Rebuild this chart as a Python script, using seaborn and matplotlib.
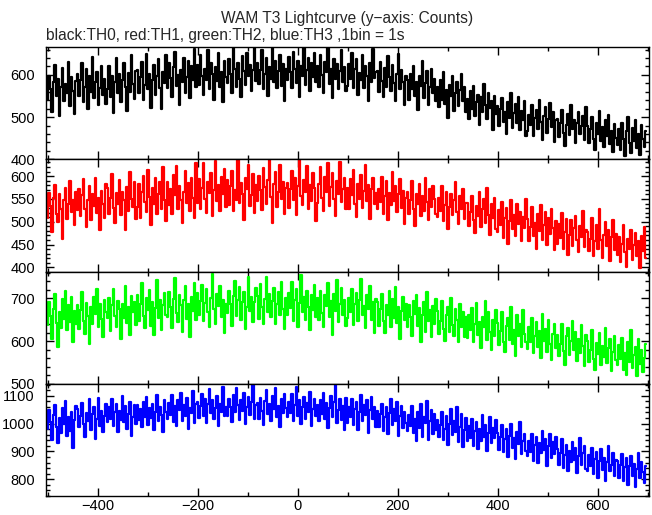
import numpy as np
import matplotlib
matplotlib.use("Agg")
import matplotlib.pyplot as plt
from matplotlib.ticker import MultipleLocator
import seaborn as sns

# ==============================
# DONNÉES (1 valeur toutes les 3 s)
# ==============================
time_s = np.arange(-500, 700, 3)

th0 = [541, 598, 566, 512, 583, 624, 549, 590, 503, 571, 617, 538, 579, 556, 631, 527, 594, 562, 508, 585,
       603, 551, 588, 629, 536, 572, 614, 519, 597, 560, 642, 545, 583, 607, 528, 569, 621, 553, 590, 532,
       566, 621, 548, 597, 509, 583, 640, 557, 601, 536, 588, 627, 571, 515, 604, 559, 648, 579, 542, 610,
       612, 557, 594, 631, 540, 577, 649, 566, 603, 521, 589, 624, 553, 598, 637, 569, 518, 606, 581, 646,
       569, 627, 592, 548, 618, 655, 574, 600, 529, 611, 583, 641, 557, 596, 633, 545, 620, 589, 662, 571,
       623, 575, 646, 597, 552, 614, 588, 660, 566, 629, 603, 541, 618, 585, 652, 571, 607, 536, 634, 594,
       581, 638, 602, 557, 664, 614, 572, 629, 590, 548, 645, 608, 576, 653, 597, 623, 561, 612, 671, 585,
       627, 579, 612, 658, 566, 603, 641, 551, 619, 590, 672, 584, 633, 568, 609, 646, 574, 625, 538, 614,
       588, 642, 607, 569, 655, 615, 581, 633, 548, 622, 598, 668, 576, 612, 639, 561, 627, 594, 651, 583,
       621, 572, 648, 599, 557, 630, 606, 668, 578, 614, 545, 637, 591, 625, 566, 609, 659, 582, 618, 561,
       573, 626, 591, 652, 568, 613, 637, 552, 604, 587, 646, 570, 621, 597, 538, 629, 584, 661, 592, 607,
       608, 559, 631, 586, 548, 617, 572, 645, 595, 561, 624, 580, 538, 603, 649, 567, 612, 584, 529, 598,
       589, 541, 603, 566, 622, 550, 584, 517, 597, 573, 632, 545, 581, 609, 528, 571, 614, 556, 590, 537,
       571, 524, 589, 541, 607, 532, 563, 498, 576, 549, 598, 515, 558, 582, 526, 565, 603, 539, 572, 511,
       543, 496, 561, 518, 574, 502, 536, 553, 481, 547, 512, 579, 528, 495, 556, 521, 538, 470, 549, 507,
       527, 479, 518, 546, 488, 512, 461, 535, 497, 556, 474, 509, 531, 486, 548, 469, 514, 493, 539, 455,
       468, 506, 481, 528, 455, 497, 517, 472, 540, 489, 446, 503, 523, 462, 495, 534, 476, 511, 441, 492,
       496, 453, 487, 516, 462, 431, 482, 508, 457, 529, 471, 494, 438, 486, 513, 460, 478, 502, 445, 523,
       479, 438, 471, 499, 449, 423, 487, 461, 514, 443, 476, 428, 492, 455, 506, 437, 468, 418, 484, 451,
       433, 472, 421, 486, 449, 408, 466, 501, 438, 415, 474, 443, 492, 426, 459, 410, 481, 447, 429, 468]

th1 = [509, 563, 534, 478, 552, 581, 518, 499, 560, 527, 462, 548, 573, 506, 539, 589, 521, 547, 492, 566,
       526, 571, 512, 558, 593, 529, 488, 547, 578, 503, 561, 535, 597, 519, 552, 481, 568, 540, 509, 583,
       574, 518, 553, 604, 530, 498, 562, 539, 592, 514, 566, 547, 481, 577, 524, 609, 551, 533, 588, 506,
       532, 583, 509, 566, 601, 543, 521, 613, 555, 492, 573, 538, 596, 516, 561, 587, 529, 619, 548, 502,
       587, 536, 571, 517, 603, 558, 622, 529, 579, 548, 498, 566, 611, 541, 584, 523, 596, 553, 509, 628,
       542, 594, 528, 575, 629, 551, 519, 588, 563, 607, 512, 569, 634, 546, 581, 524, 598, 560, 616, 533,
       591, 537, 578, 612, 524, 569, 548, 636, 541, 585, 561, 503, 597, 572, 625, 535, 558, 604, 519, 581,
       546, 601, 569, 525, 618, 577, 538, 592, 637, 555, 497, 583, 609, 532, 566, 624, 549, 588, 516, 573,
       586, 531, 572, 612, 548, 596, 514, 578, 637, 556, 537, 591, 565, 622, 528, 581, 545, 607, 573, 502,
       541, 583, 619, 553, 524, 598, 566, 628, 535, 576, 606, 549, 512, 589, 561, 631, 543, 571, 597, 527,
       575, 529, 593, 558, 614, 538, 511, 583, 550, 602, 531, 567, 624, 545, 580, 506, 571, 596, 540, 563,
       527, 572, 543, 598, 518, 556, 589, 503, 564, 537, 609, 546, 579, 522, 561, 594, 531, 568, 495, 553,
       565, 516, 548, 589, 527, 491, 561, 538, 583, 512, 556, 524, 597, 543, 504, 571, 532, 579, 549, 518,
       510, 553, 524, 579, 501, 537, 566, 484, 532, 561, 515, 548, 587, 522, 496, 556, 529, 572, 505, 541,
       542, 491, 521, 557, 503, 476, 534, 512, 566, 489, 528, 549, 497, 574, 515, 470, 538, 509, 553, 484,
       477, 526, 493, 543, 464, 508, 531, 452, 502, 547, 485, 515, 469, 538, 496, 521, 458, 511, 487, 551,
       506, 457, 489, 532, 469, 498, 441, 517, 480, 536, 461, 493, 522, 450, 508, 474, 529, 486, 438, 501,
       451, 495, 465, 519, 440, 478, 507, 428, 472, 503, 447, 487, 512, 459, 434, 491, 466, 524, 445, 481,
       477, 436, 463, 508, 425, 457, 492, 441, 527, 460, 421, 471, 499, 447, 483, 415, 466, 503, 438, 474,
       428, 467, 412, 451, 493, 433, 401, 462, 440, 483, 416, 449, 476, 424, 458, 398, 469, 437, 489, 420]

th2 = [637, 692, 659, 604, 676, 710, 643, 585, 667, 631, 699, 652, 718, 626, 684, 645, 703, 597, 671, 640,
       684, 629, 672, 715, 647, 617, 690, 658, 592, 679, 639, 704, 663, 722, 634, 687, 651, 610, 696, 668,
       653, 701, 623, 684, 721, 659, 633, 695, 676, 604, 688, 655, 730, 642, 679, 614, 706, 667, 692, 638,
       707, 648, 687, 736, 659, 631, 701, 672, 719, 636, 691, 615, 678, 742, 654, 697, 627, 684, 712, 661,
       657, 716, 681, 630, 699, 748, 665, 644, 709, 685, 621, 696, 729, 652, 688, 610, 703, 671, 737, 649,
       713, 660, 694, 731, 647, 689, 722, 668, 633, 701, 757, 675, 641, 710, 683, 728, 656, 697, 619, 686,
       666, 718, 688, 635, 706, 741, 659, 697, 727, 650, 691, 714, 629, 680, 749, 671, 703, 644, 692, 724,
       706, 652, 733, 679, 639, 699, 751, 668, 710, 657, 693, 725, 641, 687, 716, 662, 739, 674, 628, 701,
       661, 712, 677, 738, 646, 696, 722, 634, 689, 755, 667, 703, 649, 717, 681, 626, 708, 673, 731, 657,
       701, 650, 718, 665, 632, 707, 683, 735, 657, 694, 615, 711, 671, 742, 645, 688, 724, 660, 697, 636,
       654, 702, 668, 722, 637, 687, 713, 646, 697, 745, 660, 683, 631, 709, 676, 728, 650, 692, 619, 699,
       692, 636, 676, 710, 647, 619, 685, 662, 718, 632, 699, 654, 727, 643, 681, 605, 670, 703, 649, 688,
       633, 685, 656, 611, 694, 663, 708, 636, 677, 598, 660, 691, 622, 715, 648, 672, 610, 683, 641, 699,
       671, 617, 648, 694, 628, 601, 662, 681, 622, 701, 638, 613, 676, 650, 597, 688, 634, 667, 609, 656,
       608, 661, 625, 677, 599, 640, 689, 614, 645, 583, 657, 632, 694, 603, 668, 621, 579, 650, 612, 673,
       643, 591, 624, 668, 598, 574, 635, 653, 603, 681, 592, 627, 566, 660, 611, 639, 585, 672, 616, 597,
       582, 633, 598, 653, 571, 611, 645, 586, 623, 561, 663, 600, 628, 574, 649, 592, 555, 617, 639, 583,
       615, 564, 593, 641, 576, 545, 611, 630, 567, 600, 648, 580, 622, 553, 606, 571, 637, 589, 541, 614,
       601, 551, 580, 625, 557, 533, 595, 570, 618, 543, 589, 562, 631, 548, 583, 606, 529, 574, 612, 556,
       543, 591, 558, 608, 533, 572, 521, 598, 551, 626, 536, 567, 585, 517, 604, 546, 579, 528, 561, 594]

th3 = [981, 1047, 1005, 942, 1031, 1068, 989, 929, 1019, 966, 1055, 998, 1082, 957, 1024, 973, 1041, 912, 1013, 1062,
       1052, 986, 1029, 1075, 999, 953, 1039, 1008, 1087, 978, 1034, 1061, 944, 1017, 1093, 991, 1045, 968, 1026, 1071,
       1005, 1059, 1017, 1090, 990, 1041, 1072, 971, 1046, 1014, 1098, 1007, 1063, 982, 1035, 1079, 956, 1024, 1066, 998,
       1068, 1012, 1051, 987, 1078, 1025, 1095, 996, 1057, 1019, 1072, 977, 1043, 1104, 1009, 1061, 1030, 968, 1085, 1040,
       1016, 1075, 1032, 1102, 1006, 1063, 993, 1084, 1048, 1110, 1011, 1067, 1029, 1091, 981, 1055, 1037, 1118, 1002, 1070,
       1079, 1020, 1064, 1108, 1029, 1088, 1001, 1069, 1124, 1037, 1084, 1015, 1057, 1098, 990, 1072, 1043, 1131, 1026, 1061,
       1026, 1090, 1061, 1005, 1103, 1041, 1127, 1068, 1012, 1083, 1044, 1111, 997, 1058, 1094, 1030, 1076, 1137, 1018, 1065,
       1074, 1018, 1093, 1046, 996, 1081, 1119, 1033, 1071, 1009, 1099, 1052, 1128, 1024, 1063, 986, 1087, 1039, 1107, 1057,
       1022, 1077, 1038, 1106, 1011, 1068, 1132, 1029, 1086, 999, 1061, 1095, 1015, 1073, 1041, 1113, 993, 1054, 1089, 1027,
       1066, 1008, 1083, 1034, 1109, 1017, 1074, 984, 1057, 1099, 1025, 1077, 1140, 1003, 1049, 1088, 1012, 1062, 978, 1093,
       1003, 1061, 1022, 1090, 994, 1054, 1079, 978, 1043, 1104, 1010, 1066, 1031, 1085, 967, 1048, 1097, 1015, 1058, 989,
       1046, 988, 1034, 1072, 972, 1023, 1059, 961, 1039, 1088, 995, 1051, 1008, 1077, 954, 1029, 1064, 983, 1042, 1002,
       973, 1032, 991, 1064, 966, 1016, 936, 1041, 984, 1070, 951, 1025, 1002, 1082, 942, 1009, 1049, 962, 1036, 978,
       1014, 952, 996, 1042, 940, 981, 1027, 924, 999, 1053, 959, 1008, 971, 1061, 934, 989, 1033, 915, 977, 1019,
       936, 992, 948, 1018, 921, 974, 1007, 910, 980, 938, 1031, 953, 995, 901, 966, 1024, 929, 984, 947, 1012,
       966, 906, 952, 995, 897, 943, 980, 879, 956, 998, 913, 948, 872, 971, 925, 1004, 890, 938, 962, 903,
       882, 939, 897, 964, 865, 924, 952, 857, 930, 893, 973, 906, 945, 848, 918, 961, 876, 934, 889, 951,
       909, 853, 896, 943, 842, 887, 922, 829, 902, 863, 935, 868, 911, 824, 884, 948, 851, 893, 919, 837,
       831, 887, 846, 912, 820, 874, 899, 806, 866, 909, 835, 877, 793, 861, 918, 828, 853, 896, 812, 871,
       864, 806, 852, 889, 795, 843, 875, 779, 847, 882, 812, 856, 771, 838, 893, 803, 861, 825, 787, 849]

series = [th0, th1, th2, th3]
colors = ["black", "red", "#00ff00", "blue"]
y_limits = [(400, 666), (391, 637), (500, 763), (740, 1143)]
y_ticks = [[400, 500, 600], [400, 450, 500, 550, 600], [500, 600, 700],
           [800, 900, 1000, 1100]]
y_minor = [20, 10, 20, 20]

# ==============================
# FIGURE
# ==============================
sns.set_style("ticks")
plt.rcParams["font.family"] = ["Liberation Sans", "DejaVu Sans"]

fig, axes = plt.subplots(4, 1, figsize=(6.52, 5.15), dpi=100, sharex=True)
fig.subplots_adjust(left=0.0706, right=0.9954, bottom=0.0369, top=0.9087,
                    hspace=0)

for ax, vals, col, lim, ticks, mstep in zip(axes, series, colors, y_limits,
                                             y_ticks, y_minor):
    # histogramme en marches (1 bin = 1 barre verticale)
    sns.lineplot(x=time_s, y=vals, ax=ax, color=col, linewidth=1.6,
                 drawstyle="steps-mid", estimator=None)
    ax.set_xlim(-503, 703)
    ax.set_ylim(*lim)
    ax.set_yticks(ticks)
    ax.yaxis.set_minor_locator(MultipleLocator(mstep))
    ax.xaxis.set_major_locator(MultipleLocator(200))
    ax.xaxis.set_minor_locator(MultipleLocator(100))
    ax.tick_params(which="both", direction="in", top=True, right=True,
                   labelsize=10.5, colors="black", width=1)
    ax.tick_params(which="major", length=6, pad=8)
    ax.tick_params(which="minor", length=3)
    for sp in ax.spines.values():
        sp.set_linewidth(1)
        sp.set_color("black")
        sp.set_zorder(3)

axes[-1].tick_params(axis="x", pad=2)

fig.text(0.533, 0.965, "WAM T3 Lightcurve (y\u2212axis: Counts)",
         ha="center", va="center", fontsize=11.2)
fig.text(0.0706, 0.932, "black:TH0, red:TH1, green:TH2, blue:TH3 ,1bin = 1s",
         ha="left", va="center", fontsize=11.2)

plt.savefig("out.png", dpi=100)
